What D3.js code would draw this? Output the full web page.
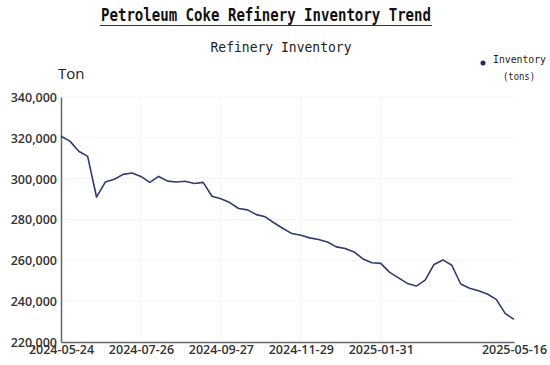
<!DOCTYPE html>
<html>
<head>
<meta charset="utf-8">
<script src="https://cdn.jsdelivr.net/npm/d3@7"></script>
<style>
  html, body { margin: 0; padding: 0; background: #fff; }
  svg { display: block; }
</style>
</head>
<body>
<svg id="chart" width="550" height="365"></svg>
<script>
// Weekly dates (categories)
const dates = [
  '2024-05-24', '2024-05-31', '2024-06-07', '2024-06-14', '2024-06-21', '2024-06-28',
  '2024-07-05', '2024-07-12', '2024-07-19', '2024-07-26', '2024-08-02', '2024-08-09',
  '2024-08-16', '2024-08-23', '2024-08-30', '2024-09-06', '2024-09-13', '2024-09-20',
  '2024-09-27', '2024-10-04', '2024-10-11', '2024-10-18', '2024-10-25', '2024-11-01',
  '2024-11-08', '2024-11-15', '2024-11-22', '2024-11-29', '2024-12-06', '2024-12-13',
  '2024-12-20', '2024-12-27', '2025-01-03', '2025-01-10', '2025-01-17', '2025-01-24',
  '2025-01-31', '2025-02-07', '2025-02-14', '2025-02-21', '2025-02-28', '2025-03-07',
  '2025-03-14', '2025-03-21', '2025-03-28', '2025-04-04', '2025-04-11', '2025-04-18',
  '2025-04-25', '2025-05-02', '2025-05-09', '2025-05-16'
];

// Refinery inventory (tons)
const inventory = [
  320800, 318400, 313400, 310900, 291000, 298400, 299700, 302100, 302800, 301100,
  298200, 301100, 298800, 298400, 298700, 297600, 298200, 291400, 290200, 288300,
  285400, 284700, 282400, 281300, 278300, 275600, 273100, 272300, 271000, 270200,
  269000, 266600, 265800, 264100, 260700, 258800, 258500, 254100, 251400, 248700,
  247400, 250300, 258000, 260200, 257600, 248400, 246300, 245100, 243500, 240900,
  234000, 231100
];

const xTickLabels = ['2024-05-24', '2024-07-26', '2024-09-27', '2024-11-29', '2025-01-31', '2025-05-16'];
const yTicks = [220000, 240000, 260000, 280000, 300000, 320000, 340000];

const svg = d3.select('#chart');

// Plot area
const margins = { left: 61, top: 97, right: 36, bottom: 23 };
const width = 550, height = 365;
const innerWidth = width - margins.left - margins.right;
const innerHeight = height - margins.top - margins.bottom;

// Scales
const x = d3.scalePoint()
  .domain(dates)
  .range([0, innerWidth]);

const y = d3.scaleLinear()
  .domain([220000, 340000])
  .range([innerHeight, 0]);

const plot = svg.append('g')
  .attr('transform', `translate(${margins.left}, ${margins.top})`);

// Very faint grid lines
plot.append('g')
  .selectAll('line.hgrid')
  .data(yTicks.slice(1))
  .join('line')
  .attr('class', 'hgrid')
  .attr('x1', 0)
  .attr('x2', innerWidth)
  .attr('y1', d => y(d))
  .attr('y2', d => y(d))
  .style('stroke', '#f5f5f5')
  .style('stroke-width', 1);

plot.append('g')
  .selectAll('line.vgrid')
  .data(xTickLabels.slice(1, -1))
  .join('line')
  .attr('class', 'vgrid')
  .attr('x1', d => x(d))
  .attr('x2', d => x(d))
  .attr('y1', 0)
  .attr('y2', innerHeight)
  .style('stroke', '#f5f5f5')
  .style('stroke-width', 1);

// Axes
const xAxis = d3.axisBottom(x)
  .tickValues(xTickLabels)
  .tickSize(0)
  .tickPadding(3);

const yAxis = d3.axisLeft(y)
  .tickValues(yTicks)
  .tickFormat(d3.format(','))
  .tickSize(0)
  .tickPadding(4);

const xAxisG = plot.append('g')
  .attr('transform', `translate(0, ${innerHeight})`)
  .call(xAxis);

const yAxisG = plot.append('g')
  .call(yAxis);

[xAxisG, yAxisG].forEach(g => {
  g.select('.domain')
    .style('stroke', '#666')
    .style('stroke-width', 1.5);
  g.selectAll('.tick text')
    .style('font-family', '"Open Sans", sans-serif')
    .style('font-size', '12.5px')
    .style('font-weight', 600)
    .style('fill', '#333');
});

yAxisG.selectAll('.tick text').attr('dy', '0.35em');

// Line
const line = d3.line()
  .x((d, i) => x(dates[i]))
  .y(d => y(d));

plot.append('path')
  .datum(inventory)
  .attr('d', line)
  .style('fill', 'none')
  .style('stroke', '#2c3d6e')
  .style('stroke-width', 1.6)
  .style('stroke-linejoin', 'round');

// Title
svg.append('text')
  .attr('x', 266)
  .attr('y', 21)
  .attr('text-anchor', 'middle')
  .attr('textLength', 330)
  .attr('lengthAdjust', 'spacingAndGlyphs')
  .style('font-family', '"DejaVu Sans Mono", monospace')
  .style('font-size', '17px')
  .style('font-weight', 'bold')
  .style('fill', '#111')
  .text('Petroleum Coke Refinery Inventory Trend');

svg.append('line')
  .attr('x1', 100)
  .attr('x2', 432)
  .attr('y1', 25.5)
  .attr('y2', 25.5)
  .style('stroke', '#333')
  .style('stroke-width', 1);

// Subtitle
svg.append('text')
  .attr('x', 281)
  .attr('y', 52)
  .attr('text-anchor', 'middle')
  .attr('textLength', 141)
  .attr('lengthAdjust', 'spacingAndGlyphs')
  .style('font-family', '"DejaVu Sans Mono", monospace')
  .style('font-size', '14px')
  .style('fill', '#222')
  .text('Refinery Inventory');

// Unit label
svg.append('text')
  .attr('x', 58)
  .attr('y', 79)
  .style('font-family', '"Open Sans", sans-serif')
  .style('font-size', '15px')
  .style('fill', '#222')
  .text('Ton');

// Legend
const legend = svg.append('g');

legend.append('circle')
  .attr('cx', 483)
  .attr('cy', 63)
  .attr('r', 2.5)
  .style('fill', '#1c2a64');

legend.append('text')
  .attr('x', 493)
  .attr('y', 63)
  .attr('textLength', 53)
  .attr('lengthAdjust', 'spacingAndGlyphs')
  .style('font-family', '"DejaVu Sans Mono", monospace')
  .style('font-size', '11px')
  .style('fill', '#222')
  .text('Inventory');

legend.append('text')
  .attr('x', 519)
  .attr('y', 80)
  .attr('text-anchor', 'middle')
  .attr('textLength', 32)
  .attr('lengthAdjust', 'spacingAndGlyphs')
  .style('font-family', '"DejaVu Sans Mono", monospace')
  .style('font-size', '11px')
  .style('fill', '#222')
  .text('(tons)');
</script>
</body>
</html>
